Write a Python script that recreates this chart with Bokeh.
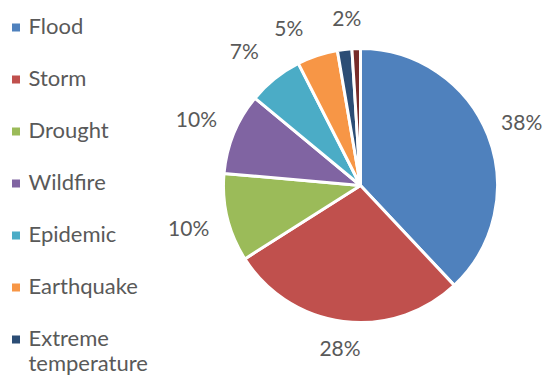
import numpy as np
from bokeh.plotting import figure
from bokeh.models import ColumnDataSource, Range1d
from bokeh.core.properties import value
from bokeh.embed import file_html
from bokeh.resources import INLINE

categories = ["Flood", "Storm", "Drought", "Wildfire", "Epidemic", "Earthquake",
              "Extreme temperature", "Other"]
shares = [38.0, 28.0, 10.4, 9.6, 6.5, 4.8, 1.7, 1.0]
labels = ["38%", "28%", "10%", "10%", "7%", "5%", "2%", ""]
colors = ["#4F81BD", "#C0504D", "#9BBB59", "#8064A2", "#4BACC6", "#F79646",
          "#2C4D75", "#772C2A"]
legend_lines = [["Flood"], ["Storm"], ["Drought"], ["Wildfire"], ["Epidemic"],
                ["Earthquake"], ["Extreme", "temperature"]]

# label placement styles (radial extra px, angular nudge deg, ccw positive)
label_extra = [0, 0, 4, 4, 11, 8, 6, 0]
label_turn = [0, 0, 0, 0, 2, 6, -2, 0]

W, H = 547, 375
FONT = "Lato"
TXT = "#595959"

p = figure(width=W, height=H, output_backend="svg", toolbar_location=None,
           x_range=Range1d(0, W), y_range=Range1d(0, H), min_border=0)
p.axis.visible = False
p.grid.visible = False
p.outline_line_color = None

cx, cy, r = 360, H - 185, 137
vals = np.array(shares)
frac = vals / vals.sum()
cum = np.concatenate([[0], np.cumsum(frac)])
start = np.pi / 2 - cum[:-1] * 2 * np.pi
end = np.pi / 2 - cum[1:] * 2 * np.pi

src = ColumnDataSource(dict(start=start, end=end, color=colors, cat=categories))
p.wedge(x=cx, y=cy, radius=r, start_angle="start", end_angle="end",
        direction="clock", fill_color="color", line_color="white", line_width=3,
        source=src)

# data labels outside end
mid = np.pi / 2 - (cum[:-1] + frac / 2) * 2 * np.pi + np.radians(label_turn)
dx, dy = np.cos(mid), np.sin(mid)
hw = np.array([len(t) * 6.7 for t in labels])
hh = 10
off = r + 14 + np.abs(dx) * hw + np.abs(dy) * hh + np.array(label_extra)
lx = cx + dx * off
ly = cy + dy * off
p.text(x=lx, y=ly, text=labels, text_align="center", text_baseline="middle",
       text_font=value(FONT), text_font_size="21px", text_color=TXT)

# legend
n = len(legend_lines)
ys = H - (27 + 52 * np.arange(n))
p.rect(x=[15.5] * n, y=ys, width=8, height=8, fill_color=colors[:n], line_color=None)
tx, ty, tt = [], [], []
for i, lines in enumerate(legend_lines):
    for j, line in enumerate(lines):
        tx.append(28)
        ty.append(ys[i] + 2 - 25 * j)
        tt.append(line)
p.text(x=tx, y=ty, text=tt, text_align="left", text_baseline="middle",
       text_font=value(FONT), text_font_size="22px", text_color=TXT)

open("out.html", "w").write(file_html(p, INLINE))
